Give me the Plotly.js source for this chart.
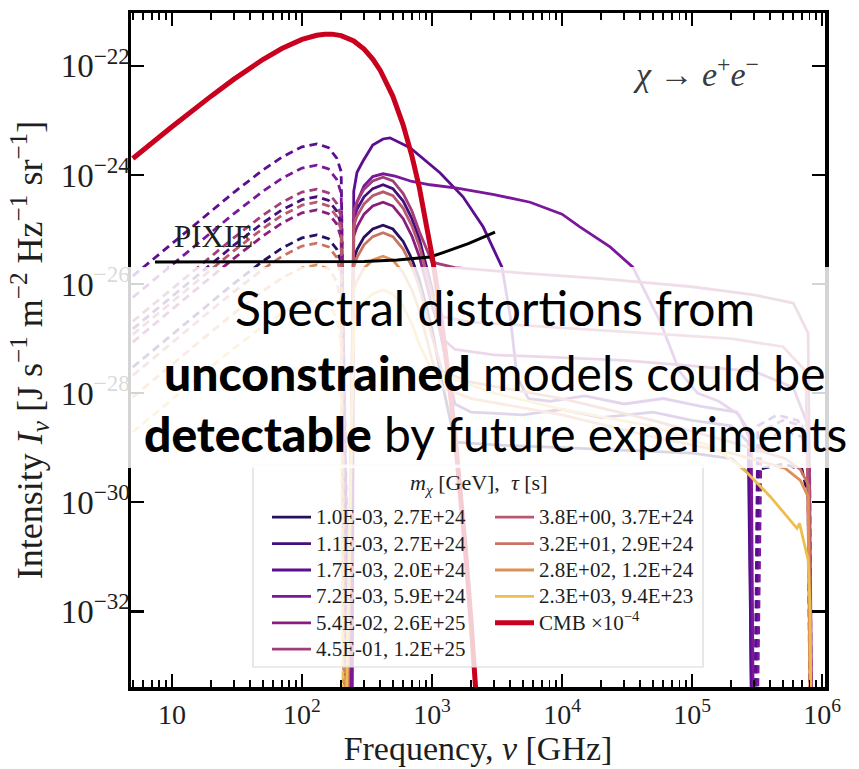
<!DOCTYPE html>
<html>
<head>
<meta charset="utf-8">
<script src="https://cdn.plot.ly/plotly-3.0.1.min.js"></script>
<style>
  html, body { margin: 0; padding: 0; background: #ffffff; }
  #chart { width: 859px; height: 769px; }
</style>
</head>
<body>
<div id="chart"></div>
<script>
// ---- Spectral distortion intensities, chi -> e+ e- decays ----
// Intensities in J s^-1 m^-2 Hz^-1 sr^-1, frequencies in GHz.
// Where a curve changes sign it is sent down to BELOW_AXIS (zero on a log axis).
const BELOW_AXIS = 1e-36;

const masses    = ['1.0E-03', '1.1E-03', '1.7E-03', '7.2E-03', '5.4E-02',
                   '4.5E-01', '3.8E+00', '3.2E+01', '2.8E+02', '2.3E+03'];
const lifetimes = ['2.7E+24', '2.7E+24', '2.0E+24', '5.9E+24', '2.6E+25',
                   '1.2E+25', '3.7E+24', '2.9E+24', '1.2E+24', '9.4E+23'];
const COLORS    = ['#27105f', '#460d7e', '#5c0d90', '#7a179b', '#8b1c80',
                   '#a23f7b', '#b75a70', '#cc7262', '#de9155', '#ecbe4e'];

// negative part (drawn dashed) below the ~220 GHz null
const FREQ_NEG = [5, 7, 10, 15, 20, 30, 50, 70, 100, 130, 160, 185, 200];

const m1Neg  = [2.99e-28, 5.85e-28, 1.19e-27, 2.66e-27, 4.69e-27, 1.03e-26, 2.62e-26, 4.54e-26, 7.01e-26, 7.94e-26, 6.78e-26, 4.36e-26, 2.45e-26];
const m2Neg  = [1.50e-27, 2.93e-27, 5.97e-27, 1.33e-26, 2.35e-26, 5.15e-26, 1.32e-25, 2.28e-25, 3.52e-25, 3.98e-25, 3.40e-25, 2.18e-25, 1.23e-25];
const m3Neg  = [1.40e-26, 2.74e-26, 5.57e-26, 1.24e-25, 2.19e-25, 4.81e-25, 1.23e-24, 2.12e-24, 3.28e-24, 3.72e-24, 3.17e-24, 2.04e-24, 1.15e-24];
const m4Neg  = [5.69e-27, 1.11e-26, 2.27e-26, 5.07e-26, 8.93e-26, 1.96e-25, 5.00e-25, 8.65e-25, 1.34e-24, 1.51e-24, 1.29e-24, 8.30e-25, 4.68e-25];
const m5Neg  = [8.61e-28, 1.69e-27, 3.44e-27, 7.67e-27, 1.35e-26, 2.96e-26, 7.57e-26, 1.31e-25, 2.02e-25, 2.29e-25, 1.95e-25, 1.26e-25, 7.08e-26];
const m6Neg  = [2.07e-27, 4.05e-27, 8.24e-27, 1.84e-26, 3.24e-26, 7.11e-26, 1.82e-25, 3.14e-25, 4.85e-25, 5.50e-25, 4.69e-25, 3.01e-25, 1.70e-25];
const m7Neg  = [1.19e-27, 2.33e-27, 4.74e-27, 1.06e-26, 1.87e-26, 4.09e-26, 1.04e-25, 1.81e-25, 2.79e-25, 3.16e-25, 2.70e-25, 1.73e-25, 9.77e-26];
const m8Neg  = [2.11e-28, 4.14e-28, 8.43e-28, 1.88e-27, 3.32e-27, 7.28e-27, 1.86e-26, 3.21e-26, 4.97e-26, 5.62e-26, 4.80e-26, 3.08e-26, 1.41e-26];
const m9Neg  = [8.41e-29, 1.65e-28, 3.36e-28, 7.50e-28, 1.32e-27, 2.90e-27, 7.40e-27, 1.28e-26, 1.98e-26, 2.24e-26, 1.91e-26, 1.12e-26, 4.47e-27];
const m10Neg = [1.93e-29, 3.78e-29, 7.69e-29, 1.72e-28, 3.03e-28, 6.64e-28, 1.69e-27, 2.93e-27, 4.53e-27, 5.13e-27, 4.38e-27, 2.40e-27, 8.13e-28];

// positive part (solid), starting at the null
const B = BELOW_AXIS;
const m1PosNu  = [220, 250, 265, 300, 350, 420, 500, 600, 700, 800, 1000, 1200, 1500, 3000, 1e4, 3e4, 1e5, 2e5, 2.8e5, 2.9e5];
const m1PosI   = [B, 2.88e-26, 4.27e-26, 7.24e-26, 1.02e-25, 1.20e-25, 1.02e-25, 6.03e-26, 2.88e-26, 1.20e-26, 1.51e-27, 1.51e-28, 1.26e-29, 1.12e-29, 1.00e-29, 8.91e-30, 7.94e-30, 6.31e-30, 3.16e-30, B];
const m2PosNu  = [228, 250, 265, 300, 350, 420, 500, 600, 700, 800, 1000, 1200, 1500, 2000, 5000, 1e4, 2e4, 5e4, 1e5, 2e5, 2.7e5, 2.95e5];
const m2PosI   = [B, 1.58e-25, 2.34e-25, 3.98e-25, 5.62e-25, 6.61e-25, 5.62e-25, 3.31e-25, 1.58e-25, 6.61e-26, 8.32e-27, 8.32e-28, 6.31e-29, 4.47e-29, 3.98e-29, 5.01e-29, 3.55e-29, 4.47e-29, 3.16e-29, 2.51e-29, 1.26e-29, B];
const m3PosNu  = [236, 250, 265, 294, 350, 420, 475, 677, 1150, 1730, 2470, 3450, 4000, 4500, 5500, 8000, 1.5e4, 3e4, 6e4, 1.2e5, 2.2e5, 2.75e5, 2.9e5];
const m3PosI   = [B, 5.01e-25, 1.12e-24, 1.78e-24, 3.55e-24, 4.57e-24, 4.79e-24, 3.16e-24, 1.10e-24, 3.98e-25, 1.12e-25, 2.04e-26, 2.51e-27, 2.00e-28, 7.94e-29, 7.08e-29, 8.91e-29, 6.31e-29, 7.94e-29, 5.62e-29, 4.47e-29, 2.00e-29, B];
const m4PosNu  = [242, 250, 265, 300, 350, 420, 520, 700, 966, 1556, 3000, 5680, 1e4, 1.37e4, 2.34e4, 3.5e4, 5.7e4, 8e4, 1.1e5, 1.6e5, 2.3e5, 2.85e5, 3.0e5];
const m4PosI   = [B, 1.00e-25, 3.16e-25, 6.31e-25, 9.33e-25, 1.05e-24, 9.55e-25, 7.59e-25, 6.61e-25, 5.75e-25, 4.37e-25, 3.16e-25, 1.91e-25, 1.12e-25, 4.79e-26, 2.04e-26, 2.00e-27, 2.51e-28, 1.00e-28, 7.08e-29, 3.98e-29, 1.26e-29, B];
const m5PosNu  = [224, 250, 265, 300, 350, 420, 500, 600, 700, 800, 1000, 1200, 1500, 3000, 1e4, 3e4, 1e5, 3e5, 6e5, 7.8e5, 8.4e5];
const m5PosI   = [B, 7.59e-26, 1.12e-25, 1.91e-25, 2.69e-25, 3.16e-25, 2.69e-25, 1.58e-25, 7.59e-26, 3.16e-26, 3.98e-27, 1.00e-27, 6.31e-28, 5.01e-28, 4.47e-28, 3.98e-28, 3.16e-28, 2.51e-28, 1.26e-28, 2.51e-29, B];
const m6PosNu  = [222, 250, 265, 300, 350, 420, 500, 600, 700, 800, 1000, 1500, 5000, 2e4, 1e5, 3e5, 6e5, 7.8e5, 8.5e5];
const m6PosI   = [B, 2.19e-25, 3.24e-25, 5.50e-25, 7.76e-25, 9.12e-25, 7.76e-25, 4.57e-25, 2.19e-25, 9.12e-26, 2.51e-26, 2.00e-26, 1.58e-26, 1.26e-26, 8.91e-27, 6.31e-27, 4.47e-27, 1.26e-27, B];
const m7PosNu  = [220, 250, 265, 300, 350, 420, 500, 600, 700, 800, 1000, 1200, 2000, 1e4, 5e4, 2e5, 5e5, 7.5e5, 8.45e5];
const m7PosI   = [B, 1.17e-25, 1.74e-25, 2.95e-25, 4.17e-25, 4.90e-25, 4.17e-25, 2.45e-25, 1.17e-25, 4.90e-26, 6.31e-27, 2.51e-27, 2.00e-27, 1.58e-27, 1.26e-27, 1.00e-27, 7.08e-28, 2.51e-28, B];
const m8PosNu  = [216, 250, 265, 300, 350, 420, 500, 600, 700, 800, 1000, 1200, 2000, 1e4, 5e4, 2e5, 5.2e5, 6.8e5, 7.9e5, 8.35e5];
const m8PosI   = [B, 2.09e-26, 3.09e-26, 5.25e-26, 7.41e-26, 8.71e-26, 7.41e-26, 4.37e-26, 2.09e-26, 8.71e-27, 1.10e-27, 2.51e-28, 1.58e-28, 7.94e-29, 3.16e-29, 1.26e-29, 6.31e-30, 3.98e-30, 2.00e-30, B];
const m9PosNu  = [212, 250, 265, 300, 350, 420, 500, 600, 700, 800, 1000, 1200, 2000, 1e4, 5e4, 2e5, 5.2e5, 6.8e5, 7.8e5, 8.2e5];
const m9PosI   = [B, 7.76e-27, 1.15e-26, 1.95e-26, 2.75e-26, 3.24e-26, 2.75e-26, 1.62e-26, 7.76e-27, 3.24e-27, 4.07e-28, 1.26e-28, 7.94e-29, 3.98e-29, 1.58e-29, 7.94e-30, 4.17e-30, 2.51e-30, 1.26e-30, B];
const m10PosNu = [210, 250, 265, 300, 350, 420, 500, 600, 700, 800, 1000, 3000, 1e4, 4.8e4, 1.5e5, 2.45e5, 4e5, 6.4e5, 6.7e5, 7.8e5, 8.1e5, 8.3e5];
const m10PosI  = [B, 1.86e-27, 2.75e-27, 4.68e-27, 6.61e-27, 7.76e-27, 6.61e-27, 3.89e-27, 1.86e-27, 7.76e-28, 2.51e-28, 1.00e-28, 5.01e-29, 2.51e-29, 1.00e-29, 4.17e-30, 1.26e-30, 3.31e-31, 4.07e-31, 8.71e-32, 1.00e-32, B];

// negative high-frequency pieces (dashed) of the lightest models
const m1HfNu = [3.0e5, 3.2e5, 5e5, 7e5, 7.8e5, 8.2e5];
const m1HfI  = [B, 3.98e-30, 5.01e-30, 3.98e-30, 1.26e-30, B];
const m2HfNu = [3.05e5, 3.3e5, 5e5, 7e5, 7.9e5, 8.3e5];
const m2HfI  = [B, 1.26e-29, 2.00e-29, 1.58e-29, 5.01e-30, B];
const m3HfNu = [2.98e5, 3.2e5, 4.5e5, 6.5e5, 7.8e5, 8.2e5];
const m3HfI  = [B, 2.51e-29, 3.98e-29, 3.16e-29, 1.00e-29, B];
const m4HfNu = [3.1e5, 3.4e5, 5e5, 7e5, 8.0e5, 8.4e5];
const m4HfI  = [B, 2.00e-29, 3.16e-29, 2.51e-29, 6.31e-30, B];

// CMB blackbody, scaled by 1e-4
const cmbNu = [5, 7, 10, 20, 30, 50, 70, 100, 120, 130, 150, 170, 200, 250, 300, 350, 400, 500, 600, 700, 800, 900, 1000, 1100, 1200, 1350, 1500, 1650, 1800, 2000, 2200, 2300];
const cmbI  = [2.00e-24, 3.86e-24, 7.66e-24, 2.79e-23, 5.72e-23, 1.31e-22, 2.08e-22, 3.06e-22, 3.50e-22, 3.65e-22, 3.82e-22, 3.82e-22, 3.59e-22, 2.86e-22, 2.03e-22, 1.33e-22, 8.25e-23, 2.77e-23, 8.22e-24, 2.24e-24, 5.76e-25, 1.41e-25, 3.32e-26, 7.61e-27, 1.70e-27, 1.72e-28, 1.68e-29, 1.60e-30, 1.48e-31, 5.98e-33, 2.35e-34, 4.60e-35];

// PIXIE sensitivity
const pixieNu = [7.4, 100, 200, 300, 540, 966, 1200, 1556, 1900, 2220, 2600, 3050];
const pixieI  = [2.53e-26, 2.53e-26, 2.55e-26, 2.60e-26, 2.75e-26, 3.13e-26, 3.72e-26, 4.57e-26, 5.50e-26, 6.46e-26, 7.59e-26, 8.91e-26];

// axis ticks
const X_TICKS  = [10, 100, 1e3, 1e4, 1e5, 1e6];
const X_LABELS = ['10', '10<sup>2</sup>', '10<sup>3</sup>', '10<sup>4</sup>', '10<sup>5</sup>', '10<sup>6</sup>'];
const Y_TICKS  = [1e-22, 1e-24, 1e-26, 1e-28, 1e-30, 1e-32];
const Y_LABELS = ['10<sup>−22</sup>', '10<sup>−24</sup>', '10<sup>−26</sup>', '10<sup>−28</sup>', '10<sup>−30</sup>', '10<sup>−32</sup>'];
const X_MINOR  = [5, 6, 7, 8, 9, 20, 30, 40, 50, 60, 70, 80, 90, 200, 300, 400, 500, 600, 700, 800, 900,
                  2e3, 3e3, 4e3, 5e3, 6e3, 7e3, 8e3, 9e3, 2e4, 3e4, 4e4, 5e4, 6e4, 7e4, 8e4, 9e4,
                  2e5, 3e5, 4e5, 5e5, 6e5, 7e5, 8e5, 9e5];

// ---- traces ----
const negSeries = [m1Neg, m2Neg, m3Neg, m4Neg, m5Neg, m6Neg, m7Neg, m8Neg, m9Neg, m10Neg];
const posNuSeries = [m1PosNu, m2PosNu, m3PosNu, m4PosNu, m5PosNu, m6PosNu, m7PosNu, m8PosNu, m9PosNu, m10PosNu];
const posISeries  = [m1PosI, m2PosI, m3PosI, m4PosI, m5PosI, m6PosI, m7PosI, m8PosI, m9PosI, m10PosI];
const hfNuSeries  = [m1HfNu, m2HfNu, m3HfNu, m4HfNu];
const hfISeries   = [m1HfI, m2HfI, m3HfI, m4HfI];

const LW = 2.8;
const DASH = '8px,5px';
const entry = s => '<span style="font-size:21px">' + s + '</span>';
const traces = [];

masses.forEach((mass, i) => {
  const color = COLORS[i];
  const zero = posNuSeries[i][0];
  traces.push({
    x: FREQ_NEG.concat([zero]), y: negSeries[i].concat([BELOW_AXIS]),
    mode: 'lines', line: { color: color, width: LW, dash: DASH },
    showlegend: false, hoverinfo: 'skip', legendgroup: 'm' + i
  });
  traces.push({
    x: posNuSeries[i], y: posISeries[i],
    mode: 'lines', line: { color: color, width: LW },
    name: entry(mass + ', ' + lifetimes[i]), legendgroup: 'm' + i,
    legend: i < 6 ? 'legend' : 'legend2'
  });
  if (i < hfNuSeries.length) {
    traces.push({
      x: hfNuSeries[i], y: hfISeries[i],
      mode: 'lines', line: { color: color, width: LW, dash: DASH },
      showlegend: false, hoverinfo: 'skip', legendgroup: 'm' + i
    });
  }
});

traces.push({
  x: pixieNu, y: pixieI, mode: 'lines',
  line: { color: '#000000', width: 3 }, name: 'PIXIE', showlegend: false
});

traces.push({
  x: cmbNu, y: cmbI, mode: 'lines',
  line: { color: '#c9001e', width: 5 }, name: entry('CMB ×10<sup>−4</sup>'),
  legend: 'legend2'
});

// ---- layout ----
const PLOT = { l: 131, r: 825, t: 13, b: 687 };
const px = x => (x - PLOT.l) / (PLOT.r - PLOT.l);
const py = y => (PLOT.b - y) / (PLOT.b - PLOT.t);

const SERIF = 'Liberation Serif, Times New Roman, serif';
const SANS = 'Lato, Open Sans, sans-serif';
const INK = '#1e1e1e';

const axisCommon = {
  type: 'log', showgrid: false, zeroline: false,
  showline: true, linecolor: '#000', linewidth: 3.5, mirror: 'ticks',
  ticks: 'inside', ticklen: 13, tickwidth: 2.6, tickcolor: '#000',
  tickmode: 'array'
};

const legendCommon = {
  bgcolor: 'rgba(0,0,0,0)', borderwidth: 0,
  font: { family: SERIF, size: 18, color: INK },
  xanchor: 'left', yanchor: 'top', orientation: 'v',
  tracegroupgap: 0, itemwidth: 39, itemclick: false, itemdoubleclick: false
};

const layout = {
  width: 859, height: 769,
  margin: { l: PLOT.l, r: 859 - PLOT.r, t: PLOT.t, b: 769 - PLOT.b, pad: 0 },
  paper_bgcolor: '#ffffff', plot_bgcolor: '#ffffff',
  font: { family: SERIF, color: INK },
  xaxis: Object.assign({}, axisCommon, {
    range: [0.685, 6.022],
    tickvals: X_TICKS, ticktext: X_LABELS,
    tickfont: { family: SERIF, size: 28, color: INK },
    minor: { tickmode: 'array', tickvals: X_MINOR, ticks: 'inside', ticklen: 7, tickwidth: 1.8, tickcolor: '#000' },
    title: { text: 'Frequency, <i>ν</i> [GHz]', font: { family: SERIF, size: 34, color: INK }, standoff: 6 }
  }),
  yaxis: Object.assign({}, axisCommon, {
    range: [-33.39, -21.03],
    tickvals: Y_TICKS, ticktext: Y_LABELS,
    tickfont: { family: SERIF, size: 33, color: INK },
    ticklabelstandoff: -9,
    title: { text: 'Intensity <i>I</i><sub><i>ν</i></sub> [J s<sup>−1</sup> m<sup>−2</sup> Hz<sup>−1</sup> sr<sup>−1</sup>]',
             font: { family: SERIF, size: 36, color: INK }, standoff: 8 }
  }),
  legend: Object.assign({}, legendCommon, { x: px(267), y: py(499) }),
  legend2: Object.assign({}, legendCommon, { x: px(490), y: py(499) }),
  shapes: [
    // legend frame
    { type: 'rect', xref: 'paper', yref: 'paper', layer: 'above',
      x0: px(253), x1: px(703), y0: py(667), y1: py(465),
      fillcolor: 'rgba(255,255,255,0.8)', line: { color: '#d8d8d8', width: 1.2 } },
    // translucent caption band
    { type: 'rect', xref: 'paper', yref: 'paper', layer: 'above',
      x0: px(95), x1: px(862), y0: py(468), y1: py(267),
      fillcolor: 'rgba(255,255,255,0.83)', line: { width: 0 } }
  ],
  annotations: [
    { xref: 'paper', yref: 'paper', x: px(478), y: py(484), showarrow: false,
      xanchor: 'center', yanchor: 'middle',
      text: '<i>m</i><sub><i>χ</i></sub> [GeV],  <i>τ</i> [s]',
      font: { family: SERIF, size: 22, color: INK } },
    { xref: 'paper', yref: 'paper', x: px(696), y: py(72), showarrow: false,
      xanchor: 'center', yanchor: 'middle',
      text: '<i>χ</i> → <i>e</i><sup>+</sup><i>e</i><sup>−</sup>',
      font: { family: SERIF, size: 34, color: '#3a3a3a' } },
    { xref: 'paper', yref: 'paper', x: px(172), y: py(236), showarrow: false,
      xanchor: 'left', yanchor: 'middle', text: 'PIXIE',
      font: { family: SERIF, size: 31, color: INK } },
    { xref: 'paper', yref: 'paper', x: px(495), y: py(307), showarrow: false,
      xanchor: 'center', yanchor: 'middle', text: 'Spectral distortions from',
      font: { family: SANS, size: 48, color: '#000' } },
    { xref: 'paper', yref: 'paper', x: px(495), y: py(372), showarrow: false,
      xanchor: 'center', yanchor: 'middle',
      text: '<span style="font-weight:900">unconstrained</span> models could be',
      font: { family: SANS, size: 48, color: '#000' } },
    { xref: 'paper', yref: 'paper', x: px(495), y: py(433), showarrow: false,
      xanchor: 'center', yanchor: 'middle',
      text: '<span style="font-weight:900">detectable</span> by future experiments',
      font: { family: SANS, size: 48, color: '#000' } }
  ]
};

Plotly.newPlot('chart', traces, layout, { displayModeBar: false, staticPlot: true });
</script>
</body>
</html>
